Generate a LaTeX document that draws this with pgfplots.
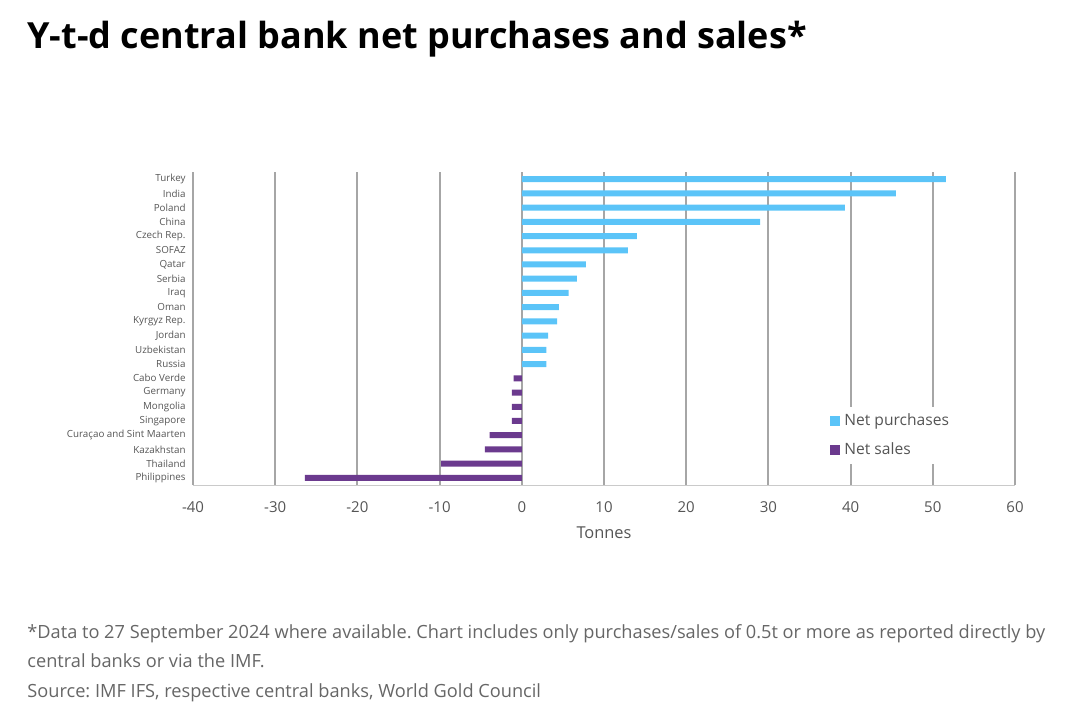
\documentclass[border=0pt]{standalone}
\usepackage{fontspec}
\setmainfont{Open Sans}
\usepackage{pgfplots}
\pgfplotsset{compat=1.18}
\definecolor{buy}{HTML}{5BC4F8}
\definecolor{sell}{HTML}{6B3A8E}
\definecolor{gridc}{HTML}{A6A6A6}
\definecolor{labc}{HTML}{555555}
\definecolor{notec}{HTML}{666666}
\frenchspacing
\begin{document}
\begin{tikzpicture}
\useasboundingbox (0,0) rectangle (540pt,-357pt);
\node[anchor=base west, inner sep=0pt] at (13.5pt,-24pt) {\fontsize{18}{20}\selectfont\bfseries Y-t-d central bank net purchases and sales*};
\begin{axis}[
  at={(96.5pt,-242.5pt)}, anchor=south west,
  scale only axis, width=411pt, height=156.5pt,
  xmin=-40, xmax=60, ymin=-0.5, ymax=21.5, y dir=reverse,
  xtick={-40,-30,...,60},
  ytick={0,...,21},
  yticklabels={Turkey,India,Poland,China,Czech Rep.,SOFAZ,Qatar,Serbia,Iraq,Oman,Kyrgyz Rep.,Jordan,Uzbekistan,Russia,Cabo Verde,Germany,Mongolia,Singapore,Curaçao and Sint Maarten,Kazakhstan,Thailand,Philippines},
  /pgf/number format/assume math mode=true,
  xmajorgrids, major grid style={gridc, line width=1pt},
  axis x line=bottom, axis y line=left,
  x axis line style={draw=gridc!60, line width=0.5pt, -},
  y axis line style={draw=none},
  major tick length=0pt,
  xticklabel style={font=\fontsize{7.5}{8}\selectfont, text=labc, inner sep=0pt, anchor=north, yshift=-8pt},
  yticklabel style={font=\fontsize{4.9}{5}\selectfont, text=labc, inner sep=0pt, anchor=east, xshift=-3.5pt},
  xlabel={Tonnes},
  xlabel style={at={(rel axis cs:0.5,0)}, anchor=center, yshift=-24pt, font=\fontsize{8.2}{9}\selectfont, text=labc},
  xbar, bar width=3pt, bar shift=0pt,
  legend style={draw=none, fill=white, at={(rel axis cs:0.7725,0.25)}, anchor=north west,
    font=\fontsize{7.8}{9}\selectfont, text=labc, row sep=3.5pt, inner sep=1pt},
  legend cell align=left,
  legend image code/.code={\fill[#1] (0pt,-2.5pt) rectangle (5pt,2.5pt);},
]
\addplot[fill=buy, draw=none] coordinates {
(51.6,0) (45.5,1) (39.3,2) (29.0,3) (14.0,4) (12.9,5) (7.8,6) (6.7,7)
(5.7,8) (4.5,9) (4.3,10) (3.2,11) (3.0,12) (3.0,13)};
\addlegendentry{Net purchases}
\addplot[fill=sell, draw=none] coordinates {
(-1.0,14) (-1.2,15) (-1.2,16) (-1.2,17) (-3.9,18) (-4.5,19) (-9.8,20) (-26.4,21)};
\addlegendentry{Net sales}
\end{axis}
\begin{scope}[every node/.style={anchor=base west, inner sep=0pt, text=notec, font=\fontsize{9.1}{10}\selectfont}]
\node at (13.5pt,-319pt) {*Data to 27 September 2024 where available. Chart includes only purchases/sales of 0.5t or more as reported directly by};
\node at (13.5pt,-333.5pt) {central banks or via the IMF.};
\node at (13.5pt,-348.5pt) {Source: IMF IFS, respective central banks, World Gold Council};
\end{scope}
\end{tikzpicture}
\end{document}
